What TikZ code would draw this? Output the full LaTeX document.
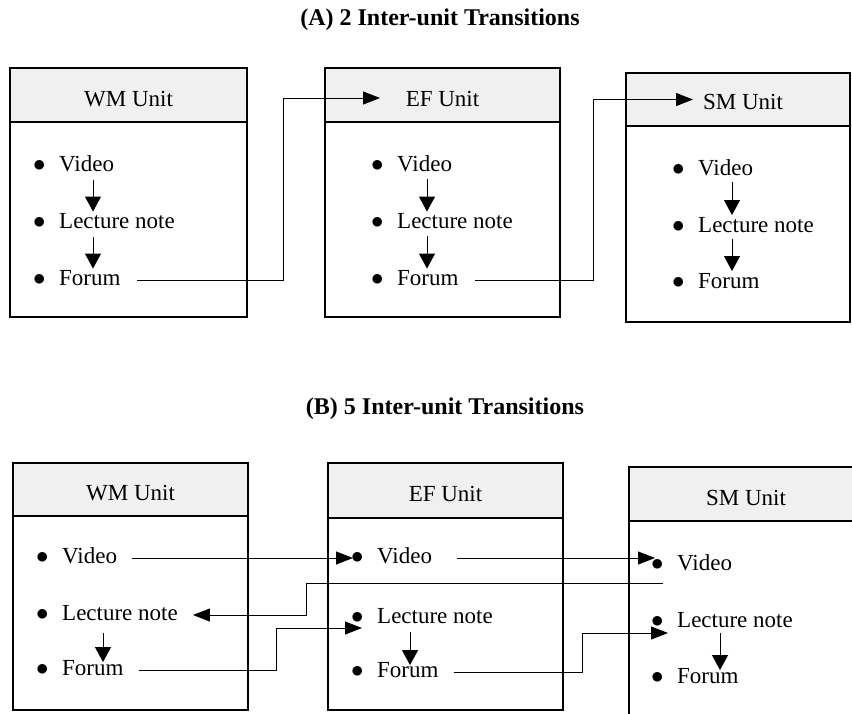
\documentclass[tikz,border=0pt]{standalone}
\usepackage{fontspec}
\setmainfont{Liberation Serif}
\usepackage{xcolor}
\usetikzlibrary{arrows.meta,positioning}
\definecolor{headgray}{gray}{0.94}
\newcommand{\itembullet}{\makebox[26pt][l]{$\bullet$}}

\begin{document}
\begin{tikzpicture}[
    x=1pt, y=-1pt,
    font=\fontsize{23}{28}\selectfont,
    title/.style={font=\fontsize{24}{29}\selectfont\bfseries},
    head/.style={draw, line width=1.6pt, fill=headgray, inner sep=0pt, outer sep=0pt, text height=22pt, text depth=0pt},
    body/.style={draw, line width=1.6pt, inner sep=0pt, outer sep=0pt},
    item/.style={anchor=west, inner sep=0pt, text height=11.5pt, text depth=0pt},
    down/.style={-{Triangle[length=15pt,width=16pt]}, line width=1pt},
    hop/.style={-{Triangle[length=17pt,width=13pt]}, line width=1pt}
]
    \useasboundingbox (0,0) rectangle (852,713);
    \clip (0,0) rectangle (852,713);

    % ---- (A) two transitions ----
    \node[title] (ta) at (440,20) {(A) 2 Inter-unit Transitions};

    % Unit boxes
    \node[head, minimum width=237pt, minimum height=54pt] (wmh) at (128.5,95) {WM Unit};
    \node[body, minimum width=237pt, minimum height=195pt, below=0pt of wmh] (wmb) {};
    \node[head, minimum width=235pt, minimum height=54pt] (efh) at (442.5,95) {EF Unit};
    \node[body, minimum width=235pt, minimum height=195pt, below=0pt of efh] (efb) {};
    \node[head, minimum width=224pt, minimum height=53pt] (smh) at (738,99.5) {};
    \node[body, minimum width=224pt, minimum height=196pt, below=0pt of smh] (smb) {};
    \node (smt) at (743,102) {SM Unit};

    % Items
    \node[item] (wv) at (33,166) {\itembullet Video};
    \node[item] (wl) at (33,223) {\itembullet Lecture note};
    \node[item] (wf) at (33,280) {\itembullet Forum};
    \node[item] (ev) at (371,166) {\itembullet Video};
    \node[item] (el) at (371,223) {\itembullet Lecture note};
    \node[item] (ef) at (371,280) {\itembullet Forum};
    \node[item] (sv) at (672,170) {\itembullet Video};
    \node[item] (sl) at (672,227) {\itembullet Lecture note};
    \node[item] (sf) at (672,283) {\itembullet Forum};

    % Within-unit order
    \draw[down] ([xshift=60pt,yshift=-8.5pt]wv.south west) -- ([xshift=60pt,yshift=5.5pt]wl.north west);
    \draw[down] ([xshift=60pt,yshift=-8.5pt]wl.south west) -- ([xshift=60pt,yshift=5.5pt]wf.north west);
    \draw[down] ([xshift=56pt,yshift=-7pt]ev.south west) -- ([xshift=56pt,yshift=5.5pt]el.north west);
    \draw[down] ([xshift=56pt,yshift=-7pt]el.south west) -- ([xshift=56pt,yshift=5.5pt]ef.north west);
    \draw[down] ([xshift=60pt,yshift=-6pt]sv.south west) -- ([xshift=60pt,yshift=6pt]sl.north west);
    \draw[down] ([xshift=60pt,yshift=-6pt]sl.south west) -- ([xshift=60pt,yshift=6pt]sf.north west);

    % Forum to next unit
    \draw[hop] ([xshift=16.7pt]wf.east) -- ++(146,0) |- ([xshift=55pt,yshift=-3pt]efh.west);
    \draw[hop] ([xshift=16.7pt]ef.east) -- ++(118,0) |- ([xshift=67pt]smh.west);

    % ---- (B) five transitions ----
    \node[title] (tb) at (445,409) {(B) 5 Inter-unit Transitions};

    % Unit boxes
    \node[head, minimum width=235pt, minimum height=53pt] (bwmh) at (130.5,489.5) {WM Unit};
    \node[body, minimum width=235pt, minimum height=194pt, below=0pt of bwmh] (bwmb) {};
    \node[head, minimum width=235pt, minimum height=55pt] (befh) at (445.5,490.5) {EF Unit};
    \node[body, minimum width=235pt, minimum height=192pt, below=0pt of befh] (befb) {};
    \node[head, minimum width=234pt, minimum height=54pt] (bsmh) at (746,494) {SM Unit};
    \node[body, minimum width=234pt, minimum height=240pt, below=0pt of bsmh] (bsmb) {};

    % Items
    \node[item] (bwv) at (36,558) {\itembullet Video};
    \node[item] (bwl) at (36,615) {\itembullet Lecture note};
    \node[item] (bwf) at (36,670) {\itembullet Forum};
    \node[item] (bev) at (351,558) {\itembullet Video};
    \node[item] (bel) at (351,618) {\itembullet Lecture note};
    \node[item] (bef) at (351,672) {\itembullet Forum};
    \node[item] (bsv) at (651,565) {\itembullet Video};
    \node[item] (bsl) at (651,622) {\itembullet Lecture note};
    \node[item] (bsf) at (651,678) {\itembullet Forum};

    % Within-unit order
    \draw[down] ([xshift=67pt,yshift=-12pt]bwl.south west) -- ([xshift=67pt,yshift=2pt]bwf.north west);
    \draw[down] ([xshift=59pt,yshift=-8pt]bel.south west) -- ([xshift=59pt,yshift=1pt]bef.north west);
    \draw[down] ([xshift=69pt,yshift=-5pt]bsl.south west) -- ([xshift=69pt,yshift=2pt]bsf.north west);

    % Jumps between units
    \draw[hop] ([xshift=15pt]bwv.east) -- ([xshift=2pt]bev.west);
    \draw[hop] ([xshift=25pt]bev.east) -- ([xshift=4pt]bev.east -| bsv.west);
    \draw[hop] ([xshift=12pt,yshift=-18pt]bsv.west) -- ++(-357,0) |- ([xshift=15pt]bwl.east);
    \draw[hop] ([xshift=15pt]bwf.east) -- ++(138,0) |- ([xshift=11pt,yshift=-10pt]bel.west);
    \draw[hop] ([xshift=15pt]bef.east) -- ++(129,0) |- ([xshift=17pt,yshift=-11pt]bsl.west);
\end{tikzpicture}
\end{document}
